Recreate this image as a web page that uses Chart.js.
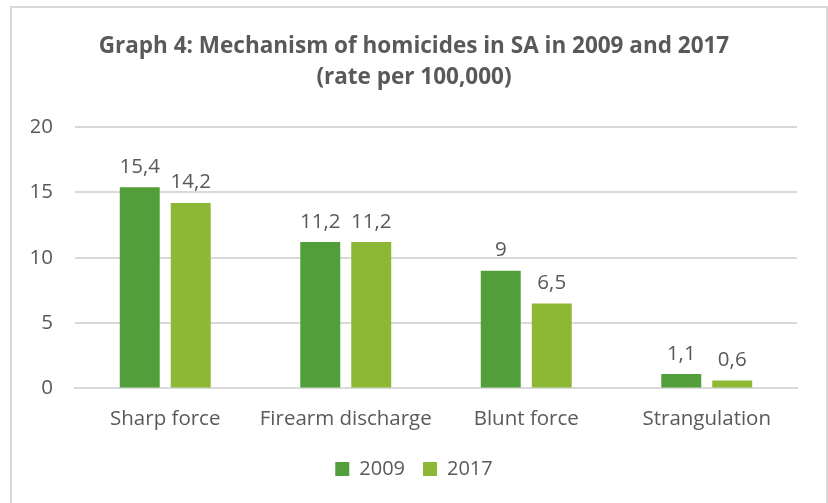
<!DOCTYPE html>
<html>
<head>
<meta charset="utf-8">
<script src="https://cdn.jsdelivr.net/npm/chart.js@4"></script>
<style>
  html, body { margin: 0; padding: 0; background: #fff; }
  #wrap { position: relative; width: 828px; height: 503px; }
  #frame {
    position: absolute; left: 10px; top: 6px; width: 814px; height: 510px;
    border: 2px solid #d9d9d9; pointer-events: none;
  }
</style>
</head>
<body>
<div id="wrap">
  <canvas id="chart" width="828" height="503"></canvas>
  <div id="frame"></div>
</div>
<script>
const categories = ["Sharp force", "Firearm discharge", "Blunt force", "Strangulation"];
const rates2009 = [15.4, 11.2, 9, 1.1];
const rates2017 = [14.2, 11.2, 6.5, 0.6];
const yTicks = [0, 5, 10, 15, 20];

const textColor = "#595959";
const fontFamily = "'Open Sans', sans-serif";

// value labels above each bar, comma as decimal separator
const barLabels = {
    id: "barLabels",
    afterDatasetsDraw(chart) {
        const ctx = chart.ctx;
        ctx.save();
        ctx.font = "20.5px " + fontFamily;
        ctx.fillStyle = textColor;
        ctx.textAlign = "center";
        ctx.textBaseline = "bottom";
        chart.data.datasets.forEach((ds, i) => {
            chart.getDatasetMeta(i).data.forEach((bar, j) => {
                ctx.fillText(String(ds.data[j]).replace(".", ","), bar.x, bar.y - 10);
            });
        });
        ctx.restore();
    }
};

new Chart(document.getElementById("chart"), {
    type: "bar",
    data: {
        labels: categories,
        datasets: [
            {
                label: "2009",
                data: rates2009,
                backgroundColor: "#529e3a"
            },
            {
                label: "2017",
                data: rates2017,
                backgroundColor: "#8db836"
            }
        ]
    },
    options: {
        responsive: false,
        animation: false,
        categoryPercentage: 0.565,
        barPercentage: 0.784,
        layout: {
            padding: { left: 31, right: 31, top: 0, bottom: 14 }
        },
        plugins: {
            title: {
                display: true,
                text: ["Graph 4: Mechanism of homicides in SA in 2009 and 2017", "(rate per 100,000)"],
                color: textColor,
                font: { family: fontFamily, size: 22.5, weight: "bold", lineHeight: 1.38 },
                padding: { top: 31, bottom: 34 }
            },
            legend: {
                position: "bottom",
                labels: {
                    color: textColor,
                    font: { family: fontFamily, size: 20 },
                    boxWidth: 14,
                    boxHeight: 14,
                    padding: 18
                }
            },
            tooltip: { enabled: false }
        },
        scales: {
            x: {
                grid: { display: false },
                border: { color: "#d9d9d9", width: 2 },
                ticks: {
                    color: textColor,
                    font: { family: fontFamily, size: 20.5 },
                    padding: 10
                }
            },
            y: {
                min: 0,
                max: 20,
                afterFit: scale => { scale.width = 44; },
                afterBuildTicks: scale => {
                    scale.ticks = yTicks.map(v => ({ value: v }));
                },
                grid: { color: "#d9d9d9", lineWidth: 2, drawTicks: false },
                border: { display: false },
                ticks: {
                    color: textColor,
                    font: { family: fontFamily, size: 20.5 },
                    padding: 22
                }
            }
        }
    },
    plugins: [barLabels]
});
</script>
</body>
</html>
